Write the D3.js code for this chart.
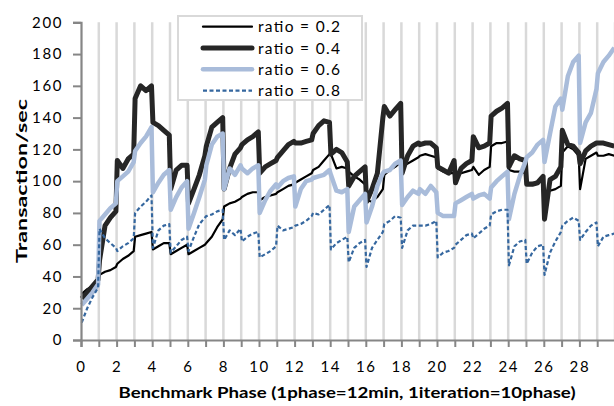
<!DOCTYPE html>
<html>
<head>
<meta charset="utf-8">
<script src="https://cdn.jsdelivr.net/npm/d3@7"></script>
<style>
  html, body { margin: 0; padding: 0; background: #fff; }
  svg { display: block; }
  text { font-family: Lato, "Open Sans", sans-serif; fill: #000; }
</style>
</head>
<body>
<svg id="chart" width="614" height="406"></svg>
<script>
// ---- data (4 samples per benchmark phase) ----
const sampleOffsets = [0.04, 0.35, 0.65, 0.96];
const seriesNames = ["ratio = 0.2", "ratio = 0.4", "ratio = 0.6", "ratio = 0.8"];
const ratio02 = [
  29,32,34,37, 41,43,44,46, 48,51,53,56, 65,66,67,68, 57,59,61,61,
  54,56,58,60, 54,56,58,60, 61,65,71,76, 84,86,87,89, 90,92,93,93,
  88,90,91,92, 93,95,97,98, 99,101,103,105, 107,109,113,117, 117,108,109,108,
  106,103,101,98, 88,87,90,95, 104,107,109,112, 110,111,113,115, 116,117,116,115,
  108,106,105,105, 105,105,106,107, 109,104,107,109, 122,124,124,125, 107,106,106,105,
  99,99,99,101, 92,94,95,97, 118,122,120,116, 95,114,116,118, 116,116,117,116
];
const ratio04 = [
  26,30,34,38, 50,72,77,81, 113,108,114,117, 152,160,157,160, 137,135,132,129,
  95,107,110,110, 86,95,104,116, 122,134,137,140, 95,108,117,121, 123,126,128,131,
  105,109,111,113, 115,119,123,125, 124,124,125,126, 130,135,138,137, 117,120,118,112,
  97,103,106,109, 87,95,105,140, 147,141,145,149, 105,116,122,124, 123,124,124,121,
  109,107,105,113, 99,108,111,113, 128,121,122,124, 141,144,146,149, 109,116,114,113,
  98,98,99,103, 76,101,103,109, 132,123,122,118, 111,119,122,124, 124,124,123,122
];
const ratio06 = [
  22,26,30,35, 75,79,83,86, 100,103,106,112, 119,124,128,134, 93,99,104,107,
  82,90,96,100, 70,80,90,101, 110,123,128,130, 95,108,104,110, 108,105,108,110,
  80,88,94,98, 96,100,102,103, 84,95,100,101, 102,103,104,107, 104,94,93,95,
  68,84,88,92, 74,84,97,105, 106,107,111,113, 85,90,94,92, 95,92,97,93,
  80,78,78,78, 86,88,90,92, 89,91,92,89, 96,100,103,106, 76,92,103,112,
  115,118,123,126, 112,130,147,152, 145,166,175,179, 124,137,143,158, 168,175,179,184
];
const ratio08 = [
  11,20,27,33, 70,64,61,58, 56,59,61,64, 80,84,87,91, 58,69,72,73,
  55,59,63,65, 56,65,73,77, 78,79,81,82, 63,69,66,70, 62,65,67,68,
  52,54,56,59, 72,69,70,71, 72,73,75,78, 80,79,82,85, 57,61,63,65,
  49,58,61,63, 46,58,63,68, 73,75,78,77, 58,69,72,72, 72,72,73,75,
  52,55,56,58, 60,63,66,67, 64,67,70,72, 79,81,82,82, 47,59,62,63,
  48,55,59,60, 41,55,62,68, 72,75,77,75, 63,68,72,74, 59,65,66,67
];
const yTicks = [0, 20, 40, 60, 80, 100, 120, 140, 160, 180, 200];
const xTickLabels = [0, 2, 4, 6, 8, 10, 12, 14, 16, 18, 20, 22, 24, 26, 28];
const xTitle = "Benchmark Phase (1phase=12min, 1iteration=10phase)";
const yTitle = "Transaction/sec";

// ---- styles ----
const styles = [
  { color: "#000000", width: 2.2, dash: null },
  { color: "#262626", width: 5, dash: null },
  { color: "#a9bcda", width: 4.5, dash: null },
  { color: "#35679f", width: 2.2, dash: "4,2.5" }
];

const svg = d3.select("#chart");
const x = d3.scaleLinear().domain([0, 30]).range([81, 615]);
const y = d3.scaleLinear().domain([0, 200]).range([340, 22.3]);

const phaseOf = i => Math.floor(i / sampleOffsets.length) + sampleOffsets[i % sampleOffsets.length];

// vertical gridlines
svg.append("g").selectAll("line")
  .data(d3.range(1, 31))
  .join("line")
  .attr("x1", d => x(d)).attr("x2", d => x(d))
  .attr("y1", y(200)).attr("y2", y(0))
  .attr("stroke", "#d9d9d9").attr("stroke-width", 2.5);

// lines
const seriesData = [ratio02, ratio04, ratio06, ratio08];
const line = d3.line().x((d, i) => x(phaseOf(i))).y(d => y(d));
seriesData.forEach((s, k) => {
  svg.append("path")
    .attr("d", line(s))
    .attr("fill", "none")
    .attr("stroke", styles[k].color)
    .attr("stroke-width", styles[k].width)
    .attr("stroke-linejoin", "round")
    .attr("stroke-dasharray", styles[k].dash);
});

// y axis
const yAxis = svg.append("g").attr("transform", `translate(${x(0)},0)`)
  .call(d3.axisLeft(y).tickValues(yTicks).tickSize(8).tickPadding(10));
yAxis.select(".domain").attr("stroke", "#868686").attr("stroke-width", 2.2);
yAxis.selectAll(".tick line").attr("stroke", "#868686").attr("stroke-width", 2);
yAxis.selectAll(".tick text").attr("font-size", 15).attr("letter-spacing", "1.6px")
  .attr("font-family", "Lato, sans-serif").attr("fill", "#000");

// x axis: tick marks every phase, labels every 2
const xAxis = svg.append("g").attr("transform", `translate(0,${y(0)})`)
  .call(d3.axisBottom(x).tickValues(d3.range(0, 31)).tickSize(7).tickPadding(14)
    .tickFormat(d => xTickLabels.includes(d) ? d : ""));
xAxis.select(".domain").attr("stroke", "#868686").attr("stroke-width", 2.2);
xAxis.selectAll(".tick line").attr("stroke", "#868686").attr("stroke-width", 2);
xAxis.selectAll(".tick text").attr("font-size", 15).attr("letter-spacing", "1.6px")
  .attr("font-family", "Lato, sans-serif").attr("fill", "#000");

// axis titles
svg.append("text")
  .attr("x", 347).attr("y", 398)
  .attr("text-anchor", "middle")
  .attr("font-size", 16).attr("font-weight", "bold")
  .attr("textLength", 457).attr("lengthAdjust", "spacingAndGlyphs")
  .text(xTitle);
svg.append("text")
  .attr("transform", "translate(27,181) rotate(-90)")
  .attr("text-anchor", "middle")
  .attr("font-size", 16).attr("font-weight", "bold")
  .attr("textLength", 164).attr("lengthAdjust", "spacingAndGlyphs")
  .text(yTitle);

// legend
const lg = svg.append("g");
lg.append("rect").attr("x", 178).attr("y", 16).attr("width", 184).attr("height", 84)
  .attr("fill", "#fff").attr("stroke", "#d9d9d9").attr("stroke-width", 2);
seriesNames.forEach((name, k) => {
  const cy = 26.7 + k * 21.3;
  lg.append("line").attr("x1", 203).attr("x2", 252).attr("y1", cy).attr("y2", cy)
    .attr("stroke", styles[k].color).attr("stroke-width", styles[k].width)
    .attr("stroke-linecap", styles[k].dash ? "butt" : "round")
    .attr("stroke-dasharray", styles[k].dash);
  lg.append("text").attr("x", 258).attr("y", cy + 5.5)
    .attr("font-size", 15.5).attr("textLength", 82).attr("lengthAdjust", "spacing")
    .text(name);
});
</script>
</body>
</html>
